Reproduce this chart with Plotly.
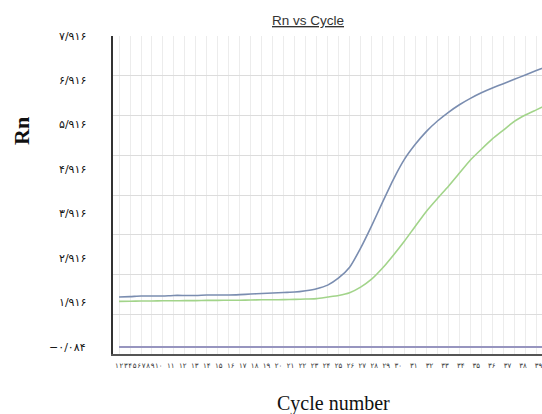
import plotly.graph_objects as go

# ---------------- data ----------------
cycles = list(range(1, 41))

rn_sample_a = [1.35, 1.36, 1.375, 1.375, 1.375, 1.39, 1.39, 1.39, 1.40, 1.40,
               1.40, 1.41, 1.425, 1.44, 1.45, 1.465, 1.475, 1.51, 1.56, 1.65,
               1.83, 2.10, 2.58, 3.14, 3.74, 4.32, 4.82, 5.20, 5.52, 5.78,
               6.00, 6.19, 6.35, 6.49, 6.61, 6.72, 6.83, 6.94, 7.05, 7.16]

rn_sample_b = [1.24, 1.245, 1.25, 1.25, 1.255, 1.255, 1.26, 1.26, 1.265, 1.265,
               1.27, 1.27, 1.275, 1.28, 1.28, 1.285, 1.29, 1.30, 1.31, 1.35,
               1.39, 1.46, 1.60, 1.80, 2.08, 2.41, 2.76, 3.14, 3.51, 3.83,
               4.14, 4.47, 4.80, 5.07, 5.33, 5.55, 5.77, 5.93, 6.06, 6.19]

rn_ntc = [0.09] * 40

y_tick_labels = ["۷/۹۱۶", "۶/۹۱۶", "۵/۹۱۶", "۴/۹۱۶", "۳/۹۱۶", "۲/۹۱۶", "۱/۹۱۶", "−۰/۰۸۴"]
x_tick_labels = ["۱", "۲", "۳", "۴", "۵", "۶", "۷", "۸", "۹", "۱۰",
                 "۱۱", "۱۲", "۱۳", "۱۴", "۱۵", "۱۶", "۱۷", "۱۸", "۱۹", "۲۰",
                 "۲۱", "۲۲", "۲۳", "۲۴", "۲۵", "۲۶", "۲۷", "۲۸", "۲۹", "۳۰",
                 "۳۱", "۳۲", "۳۳", "۳۴", "۳۵", "۳۶", "۳۷", "۳۸", "۳۹"]

title_text = "Rn vs Cycle"
x_title = "Cycle number"
y_title = "Rn"

# ---------------- layout constants ----------------
W, H = 542, 414
ML, MR, MT, MB = 113, 0, 36, 60
PW, PH = W - ML - MR, H - MT - MB

def px_x(px):
    return (px - ML) / PW

def px_y(py):
    return 1 - (py - MT) / PH

fig = go.Figure()
fig.add_trace(go.Scatter(x=cycles, y=rn_ntc, mode="lines",
                         line=dict(color="#9795bf", width=2), hoverinfo="skip"))
fig.add_trace(go.Scatter(x=cycles, y=rn_sample_b, mode="lines",
                         line=dict(color="#a2d48a", width=1.6, shape="spline", smoothing=0.5)))
fig.add_trace(go.Scatter(x=cycles, y=rn_sample_a, mode="lines",
                         line=dict(color="#7a8db0", width=1.6, shape="spline", smoothing=0.5)))

annotations = []
# y tick labels (evenly spaced as in the reference)
n = len(y_tick_labels)
top_px, bot_px = 36, 347
for i, lab in enumerate(y_tick_labels):
    py = top_px + i * (bot_px - top_px) / (n - 1)
    annotations.append(dict(text=lab, xref="paper", yref="paper",
                            x=px_x(88), y=px_y(py), xanchor="right", yanchor="middle",
                            showarrow=False,
                            font=dict(family="DejaVu Sans", size=11, color="#111")))

# x tick labels as a single text line
nb = "\u00a0"
parts = []
for i, lab in enumerate(x_tick_labels):
    parts.append(lab)
    if i < len(x_tick_labels) - 1:
        if i < 9:
            parts.append("\u200a")
        elif i < 29:
            parts.append(nb * 2)
        else:
            parts.append(nb * 3 + "\u2009")
x_line = "".join(parts)
annotations.append(dict(text=x_line, xref="paper", yref="paper",
                        x=px_x(113), y=px_y(366), xanchor="left", yanchor="middle",
                        showarrow=False,
                        font=dict(family="DejaVu Sans", size=7, color="#333")))

annotations.append(dict(text=x_title, xref="paper", yref="paper",
                        x=px_x(333), y=px_y(403), xanchor="center", yanchor="middle",
                        showarrow=False,
                        font=dict(family="Liberation Serif", size=20, color="#111")))
annotations.append(dict(text="<b>" + y_title + "</b>", xref="paper", yref="paper",
                        x=px_x(21), y=px_y(131), xanchor="center", yanchor="middle",
                        textangle=-90, showarrow=False,
                        font=dict(family="Liberation Serif", size=22, color="#111")))
annotations.append(dict(text="<u>" + title_text + "</u>", xref="paper", yref="paper",
                        x=px_x(308), y=px_y(21), xanchor="center", yanchor="middle",
                        showarrow=False,
                        font=dict(family="Liberation Sans", size=13.5, color="#333")))

fig.update_layout(
    width=W, height=H,
    margin=dict(l=ML, r=MR, t=MT, b=MB),
    paper_bgcolor="white", plot_bgcolor="white",
    showlegend=False,
    annotations=annotations,
    xaxis=dict(range=[0.45, 39.52], tick0=0, dtick=1, showgrid=True,
               gridcolor="#ececec", gridwidth=1, showticklabels=False, ticks="",
               zeroline=False, showline=True, linecolor="#555", linewidth=2),
    yaxis=dict(range=[-0.084, 7.92], tick0=-0.084, dtick=1, showgrid=True,
               gridcolor="#dcdcdc", gridwidth=1, showticklabels=False, ticks="",
               zeroline=False, showline=True, linecolor="#333", linewidth=2),
)

fig.write_html("out.html")
